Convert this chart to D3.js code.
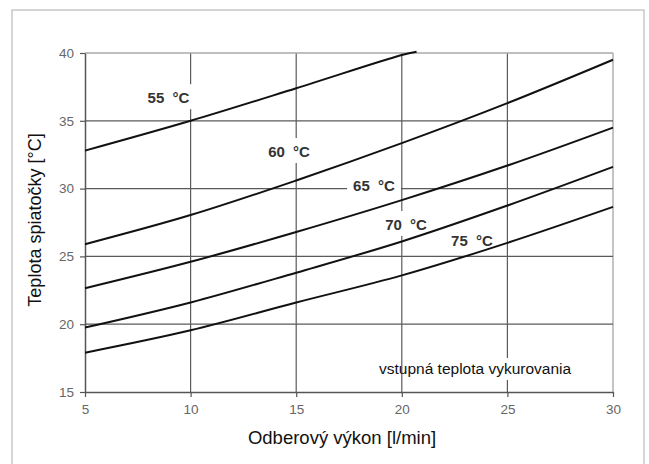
<!DOCTYPE html>
<html>
<head>
<meta charset="utf-8">
<script src="https://cdn.jsdelivr.net/npm/d3@7"></script>
<style>
  html, body { margin: 0; padding: 0; background: #fff; }
  svg { display: block; font-family: "Liberation Sans", Arial, sans-serif; }
</style>
</head>
<body>
<svg id="chart" width="649" height="464"></svg>
<script>
// Flow rate [l/min] at which each curve was sampled
const flow = [5, 10, 15, 20, 25, 30];
const flow55 = [5, 10, 15, 20, 20.7];

// Return temperature [°C] for each heating inlet temperature
const ret55 = [32.8, 35.0, 37.4, 39.85, 40.1];
const ret60 = [25.9, 28.05, 30.6, 33.35, 36.3, 39.5];
const ret65 = [22.65, 24.6, 26.8, 29.15, 31.7, 34.5];
const ret70 = [19.75, 21.6, 23.8, 26.1, 28.75, 31.6];
const ret75 = [17.9, 19.55, 21.6, 23.6, 26.0, 28.65];

const seriesNames = ["55 °C", "60 °C", "65 °C", "70 °C", "75 °C"];
// Label anchor positions in data units [flow, temperature] (text baseline)
const labelFlow = [8.95, 14.66, 18.68, 20.2, 23.32];
const labelTemp = [36.3, 32.33, 29.82, 26.95, 25.77];

const xTicks = [5, 10, 15, 20, 25, 30];
const yTicks = [15, 20, 25, 30, 35, 40];

const xTitle = "Odberový výkon [l/min]";
const yTitle = "Teplota spiatočky [°C]";
const note = "vstupná teplota vykurovania";

const svg = d3.select("#chart");

// outer frame
svg.append("rect")
  .attr("x", 12).attr("y", 10)
  .attr("width", 632).attr("height", 470)
  .attr("fill", "none").attr("stroke", "#c8c8c8").attr("stroke-width", 1.5);

const x = d3.scaleLinear().domain([5, 30]).range([85, 613]);
const y = d3.scaleLinear().domain([15, 40]).range([392, 53]);

const grid = svg.append("g");
// vertical grid lines
grid.selectAll("line.v").data(xTicks.filter(d => d > 5)).join("line")
  .attr("x1", d => x(d)).attr("x2", d => x(d))
  .attr("y1", y(40)).attr("y2", y(15))
  .attr("stroke", d => d === 30 ? "#b0b0b0" : "#5a5a5a")
  .attr("stroke-width", d => d === 30 ? 1.5 : 1.2);
// horizontal grid lines
grid.selectAll("line.h").data(yTicks.filter(d => d > 15)).join("line")
  .attr("x1", x(5)).attr("x2", x(30))
  .attr("y1", d => y(d)).attr("y2", d => y(d))
  .attr("stroke", d => d === 40 ? "#a8a8a8" : "#5a5a5a")
  .attr("stroke-width", d => d === 40 ? 1.5 : 1.2);

// axes
const xAxis = svg.append("g").attr("transform", `translate(0,${y(15)})`)
  .call(d3.axisBottom(x).tickValues(xTicks).tickSize(5).tickPadding(7).tickSizeOuter(0));
const yAxis = svg.append("g").attr("transform", `translate(${x(5)},0)`)
  .call(d3.axisLeft(y).tickValues(yTicks).tickSize(5).tickPadding(6).tickSizeOuter(0));
[xAxis, yAxis].forEach(a => {
  a.select(".domain").attr("stroke", "#555").attr("stroke-width", 1.5);
  a.selectAll(".tick line").attr("stroke", "#555").attr("stroke-width", 1.2);
  a.selectAll(".tick text").attr("fill", "#666").attr("font-size", 13.5)
    .attr("font-family", "'Liberation Sans', Arial, sans-serif");
});

// note below the curves, with a white patch cutting the 25 grid line
const noteG = svg.append("g");
const notePatch = noteG.append("rect").attr("fill", "#fff");
noteG.append("text")
  .attr("x", x(23.47)).attr("y", y(16.33))
  .attr("text-anchor", "middle").attr("font-size", 15.5).attr("fill", "#111")
  .text(note);
notePatch
  .attr("x", x(25) - 6).attr("y", y(16.33) - 16)
  .attr("width", 12).attr("height", 22);

// curve labels; white boxes behind them interrupt the grid
const labels = seriesNames.map((n, i) => ({ name: n, fx: labelFlow[i], ty: labelTemp[i] }));
const boxG = svg.append("g");
const curveG = svg.append("g");
const labelG = svg.append("g");
const labelTexts = labelG.selectAll("text").data(labels).join("text")
  .attr("x", d => x(d.fx)).attr("y", d => y(d.ty))
  .attr("text-anchor", "middle")
  .attr("font-size", 15).attr("font-weight", "bold")
  .attr("fill", "#333")
  .attr("word-spacing", 4)
  .text(d => d.name);
labelTexts.each(function() {
  const b = this.getBBox();
  boxG.append("rect")
    .attr("x", b.x - 6).attr("y", b.y - 5)
    .attr("width", b.width + 12).attr("height", b.height + 8)
    .attr("fill", "#fff");
});

// curves
const line = d3.line().x(d => x(d[0])).y(d => y(d[1])).curve(d3.curveCatmullRom);
const curves = [
  d3.zip(flow55, ret55),
  d3.zip(flow, ret60),
  d3.zip(flow, ret65),
  d3.zip(flow, ret70),
  d3.zip(flow, ret75)
];
curveG.selectAll("path").data(curves).join("path")
  .attr("d", line)
  .attr("fill", "none").attr("stroke", "#111").attr("stroke-width", 2);

// axis titles
svg.append("text")
  .attr("x", 342).attr("y", 444)
  .attr("text-anchor", "middle").attr("font-size", 18.5).attr("fill", "#111")
  .text(xTitle);
svg.append("text")
  .attr("transform", "translate(41,220) rotate(-90)")
  .attr("text-anchor", "middle").attr("font-size", 18).attr("fill", "#111")
  .text(yTitle);
</script>
</body>
</html>
